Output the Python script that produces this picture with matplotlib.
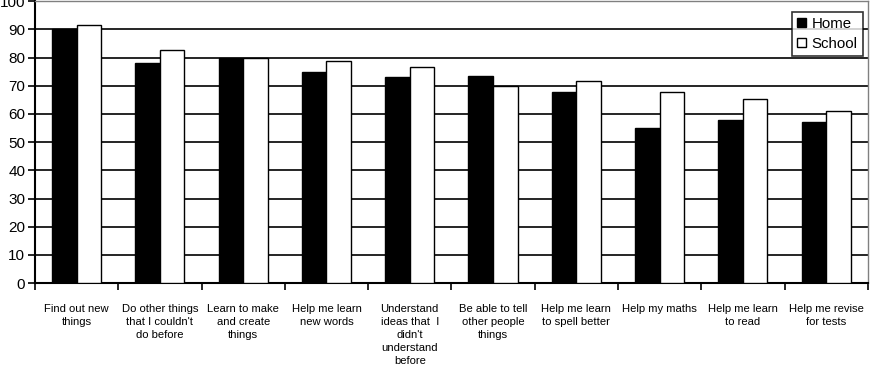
import numpy as np
import matplotlib
matplotlib.use("Agg")
import matplotlib.pyplot as plt
from matplotlib.ticker import FixedLocator

plt.rcParams['font.family'] = ['Liberation Sans', 'DejaVu Sans']

categories = ["Find out new\nthings",
              "Do other things\nthat I couldn't\ndo before",
              "Learn to make\nand create\nthings",
              "Help me learn\nnew words",
              "Understand\nideas that  I\ndidn't\nunderstand\nbefore",
              "Be able to tell\nother people\nthings",
              "Help me learn\nto spell better",
              "Help my maths",
              "Help me learn\nto read",
              "Help me revise\nfor tests"]
home = [90, 78, 80, 75, 73, 73.5, 67.7, 55, 58, 57]
school = [91.7, 82.5, 80, 78.7, 76.6, 69.8, 71.8, 67.8, 65.3, 61]
yticks = list(range(0, 101, 10))

fig = plt.figure(figsize=(8.81, 3.76), dpi=100)
ax = fig.add_axes([0.0397, 0.247, 0.9453, 0.75])

x = np.arange(len(categories))
w = 0.295
ax.bar(x - w / 2, home, w, color='black', edgecolor='black', linewidth=1, label='Home', zorder=3)
ax.bar(x + w / 2, school, w, color='white', edgecolor='black', linewidth=1, label='School', zorder=3)

ax.set_xlim(-0.5, len(categories) - 0.5)
ax.set_ylim(0, 100)
ax.set_yticks(yticks)
ax.tick_params(axis='y', labelsize=11, length=5, width=1.2, direction='out', pad=2)
ax.yaxis.grid(True, color='black', linewidth=1.2, zorder=0)
ax.set_axisbelow(True)

ax.set_xticks(x)
ax.set_xticklabels(categories, fontsize=8.1, linespacing=1.38)
ax.tick_params(axis='x', which='major', length=0, pad=15)
ax.xaxis.set_minor_locator(FixedLocator(np.arange(-0.5, len(categories), 1)))
ax.tick_params(axis='x', which='minor', length=5, width=1.2, direction='out')

for s in ['left', 'bottom']:
    ax.spines[s].set_color('black')
    ax.spines[s].set_linewidth(1.5)
for s in ['top', 'right']:
    ax.spines[s].set_color('#808080')
    ax.spines[s].set_linewidth(1)

leg = ax.legend(loc='upper right', bbox_to_anchor=(0.994, 0.963), fontsize=10.8,
                frameon=True, fancybox=False, edgecolor='black', handlelength=0.55,
                handleheight=0.55, handletextpad=0.4, borderpad=0.35, labelspacing=0.4,
                borderaxespad=0)
leg.get_frame().set_linewidth(1.2)
for p in leg.get_patches():
    p.set_linewidth(1)

fig.savefig("out.png", dpi=100)
